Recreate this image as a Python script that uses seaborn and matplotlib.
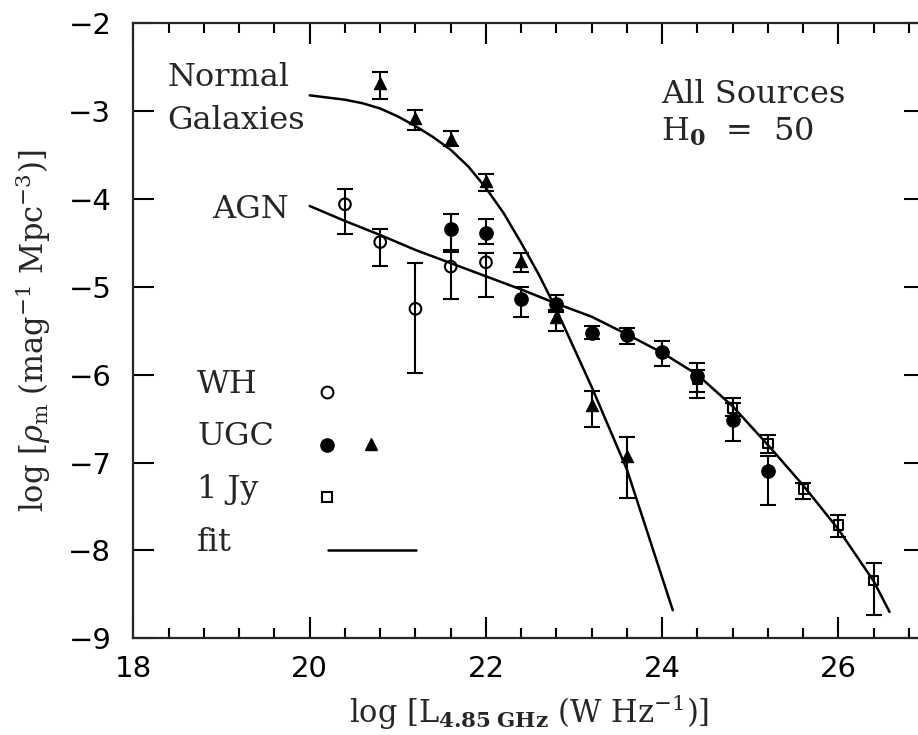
import numpy as np
import seaborn as sns
import matplotlib.pyplot as plt
from matplotlib.ticker import MultipleLocator, FixedLocator

# WH (open circles)
wh_x = [20.4, 20.8, 21.2, 21.6, 22.0]
wh_y = [-4.06, -4.49, -5.25, -4.77, -4.72]
wh_hi = [-3.89, -4.34, -4.73, -4.60, -4.61]
wh_lo = [-4.40, -4.76, -5.98, -5.14, -5.11]

# UGC AGN (filled circles)
ugc_agn_x = [21.6, 22.0, 22.4, 22.8, 23.2, 23.6, 24.0, 24.4, 24.8, 25.2]
ugc_agn_y = [-4.34, -4.39, -5.14, -5.19, -5.52, -5.55, -5.74, -6.02, -6.51, -7.10]
ugc_agn_hi = [-4.17, -4.23, -5.00, -5.09, -5.45, -5.47, -5.62, -5.87, -6.32, -6.92]
ugc_agn_lo = [-4.58, -4.51, -5.34, -5.29, -5.59, -5.65, -5.90, -6.26, -6.75, -7.48]

# UGC normal galaxies (filled triangles)
ugc_gal_x = [20.8, 21.2, 21.6, 22.0, 22.4, 22.8, 23.2, 23.6]
ugc_gal_y = [-2.68, -3.08, -3.32, -3.80, -4.70, -5.34, -6.34, -6.93]
ugc_gal_hi = [-2.55, -2.99, -3.23, -3.72, -4.61, -5.26, -6.18, -6.71]
ugc_gal_lo = [-2.86, -3.21, -3.40, -3.91, -4.83, -5.50, -6.60, -7.40]

# 1 Jy (open squares)
jy_x = [24.4, 24.8, 25.2, 25.6, 26.0, 26.4]
jy_y = [-6.05, -6.38, -6.78, -7.30, -7.71, -8.34]
jy_hi = [-5.95, -6.26, -6.69, -7.23, -7.60, -8.14]
jy_lo = [-6.20, -6.47, -6.89, -7.41, -7.85, -8.73]

# fits
fit_gal_x = [20.0, 20.2, 20.4, 20.6, 20.8, 21.0, 21.2, 21.4, 21.6, 21.8, 22.0, 22.2,
             22.4, 22.6, 22.8, 23.2, 23.6, 24.12]
fit_gal_y = [-2.82, -2.845, -2.87, -2.91, -2.97, -3.06, -3.17, -3.295, -3.44, -3.63,
             -3.875, -4.16, -4.50, -4.86, -5.26, -6.14, -7.08, -8.68]
fit_agn_x = [20.0, 20.4, 20.8, 21.2, 21.6, 22.0, 22.4, 22.8, 23.2, 23.6, 24.0,
             24.4, 24.8, 25.2, 25.6, 26.0, 26.4, 26.58]
fit_agn_y = [-4.08, -4.25, -4.41, -4.58, -4.73, -4.88, -5.03, -5.19, -5.34, -5.54, -5.75,
             -6.00, -6.36, -6.80, -7.26, -7.76, -8.35, -8.70]

sns.set_style("ticks")
plt.rcParams["font.family"] = ["DejaVu Serif"]
plt.rcParams["mathtext.fontset"] = "dejavuserif"
plt.rcParams["axes.linewidth"] = 1.6

fig = plt.figure(figsize=(9.18, 7.35), dpi=100)
ax = fig.add_axes([0.1454, 0.1316, 0.8620, 0.8367])

# error bars
def bars(x, y, hi, lo):
    y = np.array(y)
    ax.errorbar(x, y, yerr=[y - np.array(lo), np.array(hi) - y], fmt="none",
                ecolor="black", elinewidth=1.5, capsize=5.5, capthick=1.5, zorder=2)

bars(wh_x, wh_y, wh_hi, wh_lo)
bars(ugc_agn_x, ugc_agn_y, ugc_agn_hi, ugc_agn_lo)
bars(ugc_gal_x, ugc_gal_y, ugc_gal_hi, ugc_gal_lo)
bars(jy_x, jy_y, jy_hi, jy_lo)

# fit curves
sns.lineplot(x=fit_gal_x, y=fit_gal_y, color="black", linewidth=1.8, ax=ax, zorder=3)
sns.lineplot(x=fit_agn_x, y=fit_agn_y, color="black", linewidth=1.8, ax=ax, zorder=3)

# markers
sns.scatterplot(x=wh_x, y=wh_y, marker="o", s=70, facecolor="none", edgecolor="black",
                linewidth=1.5, ax=ax, zorder=4)
sns.scatterplot(x=jy_x, y=jy_y, marker="s", s=45, facecolor="none", edgecolor="black",
                linewidth=1.5, ax=ax, zorder=4)
sns.scatterplot(x=ugc_agn_x, y=ugc_agn_y, marker="o", s=95, color="black",
                edgecolor="black", ax=ax, zorder=5)
sns.scatterplot(x=ugc_gal_x, y=ugc_gal_y, marker="^", s=80, color="black",
                edgecolor="black", ax=ax, zorder=5)

ax.set_xlim(18, 26.98)
ax.set_ylim(-9, -2)
ax.xaxis.set_major_locator(FixedLocator([18, 20, 22, 24, 26]))
ax.xaxis.set_minor_locator(MultipleLocator(0.4))
ax.yaxis.set_major_locator(MultipleLocator(1))
ax.tick_params(which="both", direction="in", top=True, right=True, width=1.5, colors="black")
ax.tick_params(which="major", length=15, pad=12, labelsize=21)
ax.tick_params(which="minor", length=7)
for lab in ax.get_xticklabels() + ax.get_yticklabels():
    lab.set_family("DejaVu Sans")
ax.tick_params(axis="y", pad=16)

ax.set_xlabel(r"log [L$_{\mathbf{4.85\ GHz}}$ (W Hz$^{-1}$)]", fontsize=22, labelpad=7)
ax.set_ylabel(r"log [$\rho_{\rm m}$ (mag$^{-1}$ Mpc$^{-3}$)]", fontsize=22, labelpad=11)

# annotations
tk = dict(transform=ax.transAxes, fontsize=23, va="baseline", ha="left")
ax.text(0.0426, 0.8984, "Normal", **tk)
ax.text(0.0426, 0.8280, "Galaxies", **tk)
ax.text(0.0998, 0.6829, "AGN", **tk)
ax.text(0.6669, 0.8709, "All Sources", **tk)
ax.text(0.6669, 0.8089, r"H$_{\mathbf{0}}$  =  50", **tk)

# key
ax.text(0.0807, 0.3984, "WH", **tk)
ax.text(0.0807, 0.3143, "UGC", **tk)
ax.text(0.0807, 0.2281, "1 Jy", **tk)
ax.text(0.0807, 0.1424, "fit", **tk)
ax.plot([0.2444], [0.4000], "o", ms=8.5, mfc="white", mec="black", mew=1.5, transform=ax.transAxes)
ax.plot([0.2444], [0.3143], "o", ms=9.5, color="black", transform=ax.transAxes)
ax.plot([0.2998], [0.3154], "^", ms=8.5, color="black", transform=ax.transAxes)
ax.plot([0.2448], [0.2302], "s", ms=6.5, mfc="white", mec="black", mew=1.5, transform=ax.transAxes)
ax.plot([0.2456, 0.3570], [0.1436, 0.1436], "-", color="black", lw=1.8, transform=ax.transAxes)

fig.savefig("out.png", dpi=100)
